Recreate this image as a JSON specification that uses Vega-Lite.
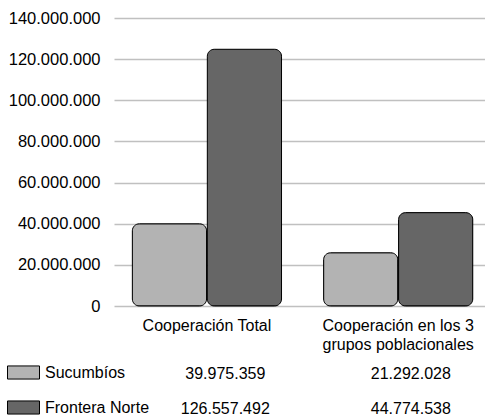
{
  "$schema": "https://vega.github.io/schema/vega-lite/v6.json",
  "config": {
    "locale": {"number": {"decimal": ",", "thousands": ".", "grouping": [3], "currency": ["$", ""]}},
    "font": "Liberation Sans",
    "view": {"stroke": null}
  },
  "spacing": 4,
  "padding": {"left": 7, "top": 10, "right": 0, "bottom": 0},
  "datasets": {
    "valores": [
      {"categoria": "Cooperación Total", "serie": "Sucumbíos", "barra": 39975359, "tabla": 39975359},
      {"categoria": "Cooperación Total", "serie": "Frontera Norte", "barra": 124800000, "tabla": 126557492},
      {"categoria": "Cooperación en los 3 grupos poblacionales", "serie": "Sucumbíos", "barra": 25900000, "tabla": 21292028},
      {"categoria": "Cooperación en los 3 grupos poblacionales", "serie": "Frontera Norte", "barra": 45400000, "tabla": 44774538}
    ]
  },
  "vconcat": [
    {
      "data": {"name": "valores"},
      "width": 371,
      "height": 288,
      "mark": {"type": "bar", "cornerRadius": 7, "stroke": "black", "strokeWidth": 1},
      "encoding": {
        "x": {
          "field": "categoria", "type": "nominal", "sort": null,
          "scale": {"paddingInner": 0.22, "paddingOuter": 0.08, "align": 0.6},
          "axis": {"title": null, "labelAngle": 0, "domain": false, "ticks": false, "labelFontSize": 16, "labelPadding": 11, "labelLineHeight": 19, "labelColor": "black",
            "labelExpr": "datum.value == 'Cooperación en los 3 grupos poblacionales' ? ['Cooperación en los 3', 'grupos poblacionales'] : datum.label"}
        },
        "xOffset": {"field": "serie", "type": "nominal", "sort": ["Sucumbíos", "Frontera Norte"], "scale": {"paddingInner": 0.01}},
        "y": {
          "field": "barra", "type": "quantitative",
          "scale": {"domain": [0, 140000000]},
          "axis": {"title": null, "values": [0, 20000000, 40000000, 60000000, 80000000, 100000000, 120000000, 140000000], "format": ",d", "domain": false, "ticks": false, "labelFontSize": 16.5, "labelPadding": 14, "labelColor": "black", "gridColor": "#c0c0c0", "gridWidth": 1.5}
        },
        "color": {
          "field": "serie", "type": "nominal", "sort": ["Sucumbíos", "Frontera Norte"],
          "scale": {"range": ["#b3b3b3", "#666666"]},
          "legend": {"title": null, "orient": "none", "legendX": -107, "legendY": 338, "symbolType": "M-1,-0.41H1V0.41H-1Z", "symbolSize": 1024, "symbolStrokeColor": "black", "symbolStrokeWidth": 1, "labelFontSize": 16, "labelColor": "black", "rowPadding": 9, "labelOffset": 5}
        }
      }
    },
    {
      "data": {"name": "valores"},
      "width": 371,
      "height": 70,
      "mark": {"type": "text", "fontSize": 16, "color": "black"},
      "encoding": {
        "x": {"field": "categoria", "type": "nominal", "sort": null, "scale": {"paddingInner": 0.22, "paddingOuter": 0.08, "align": 0.6}, "axis": null},
        "y": {"field": "serie", "type": "nominal", "sort": ["Sucumbíos", "Frontera Norte"], "scale": {"type": "point", "padding": 0.5}, "axis": null},
        "text": {"field": "tabla", "type": "quantitative", "format": ",d"}
      }
    }
  ]
}
